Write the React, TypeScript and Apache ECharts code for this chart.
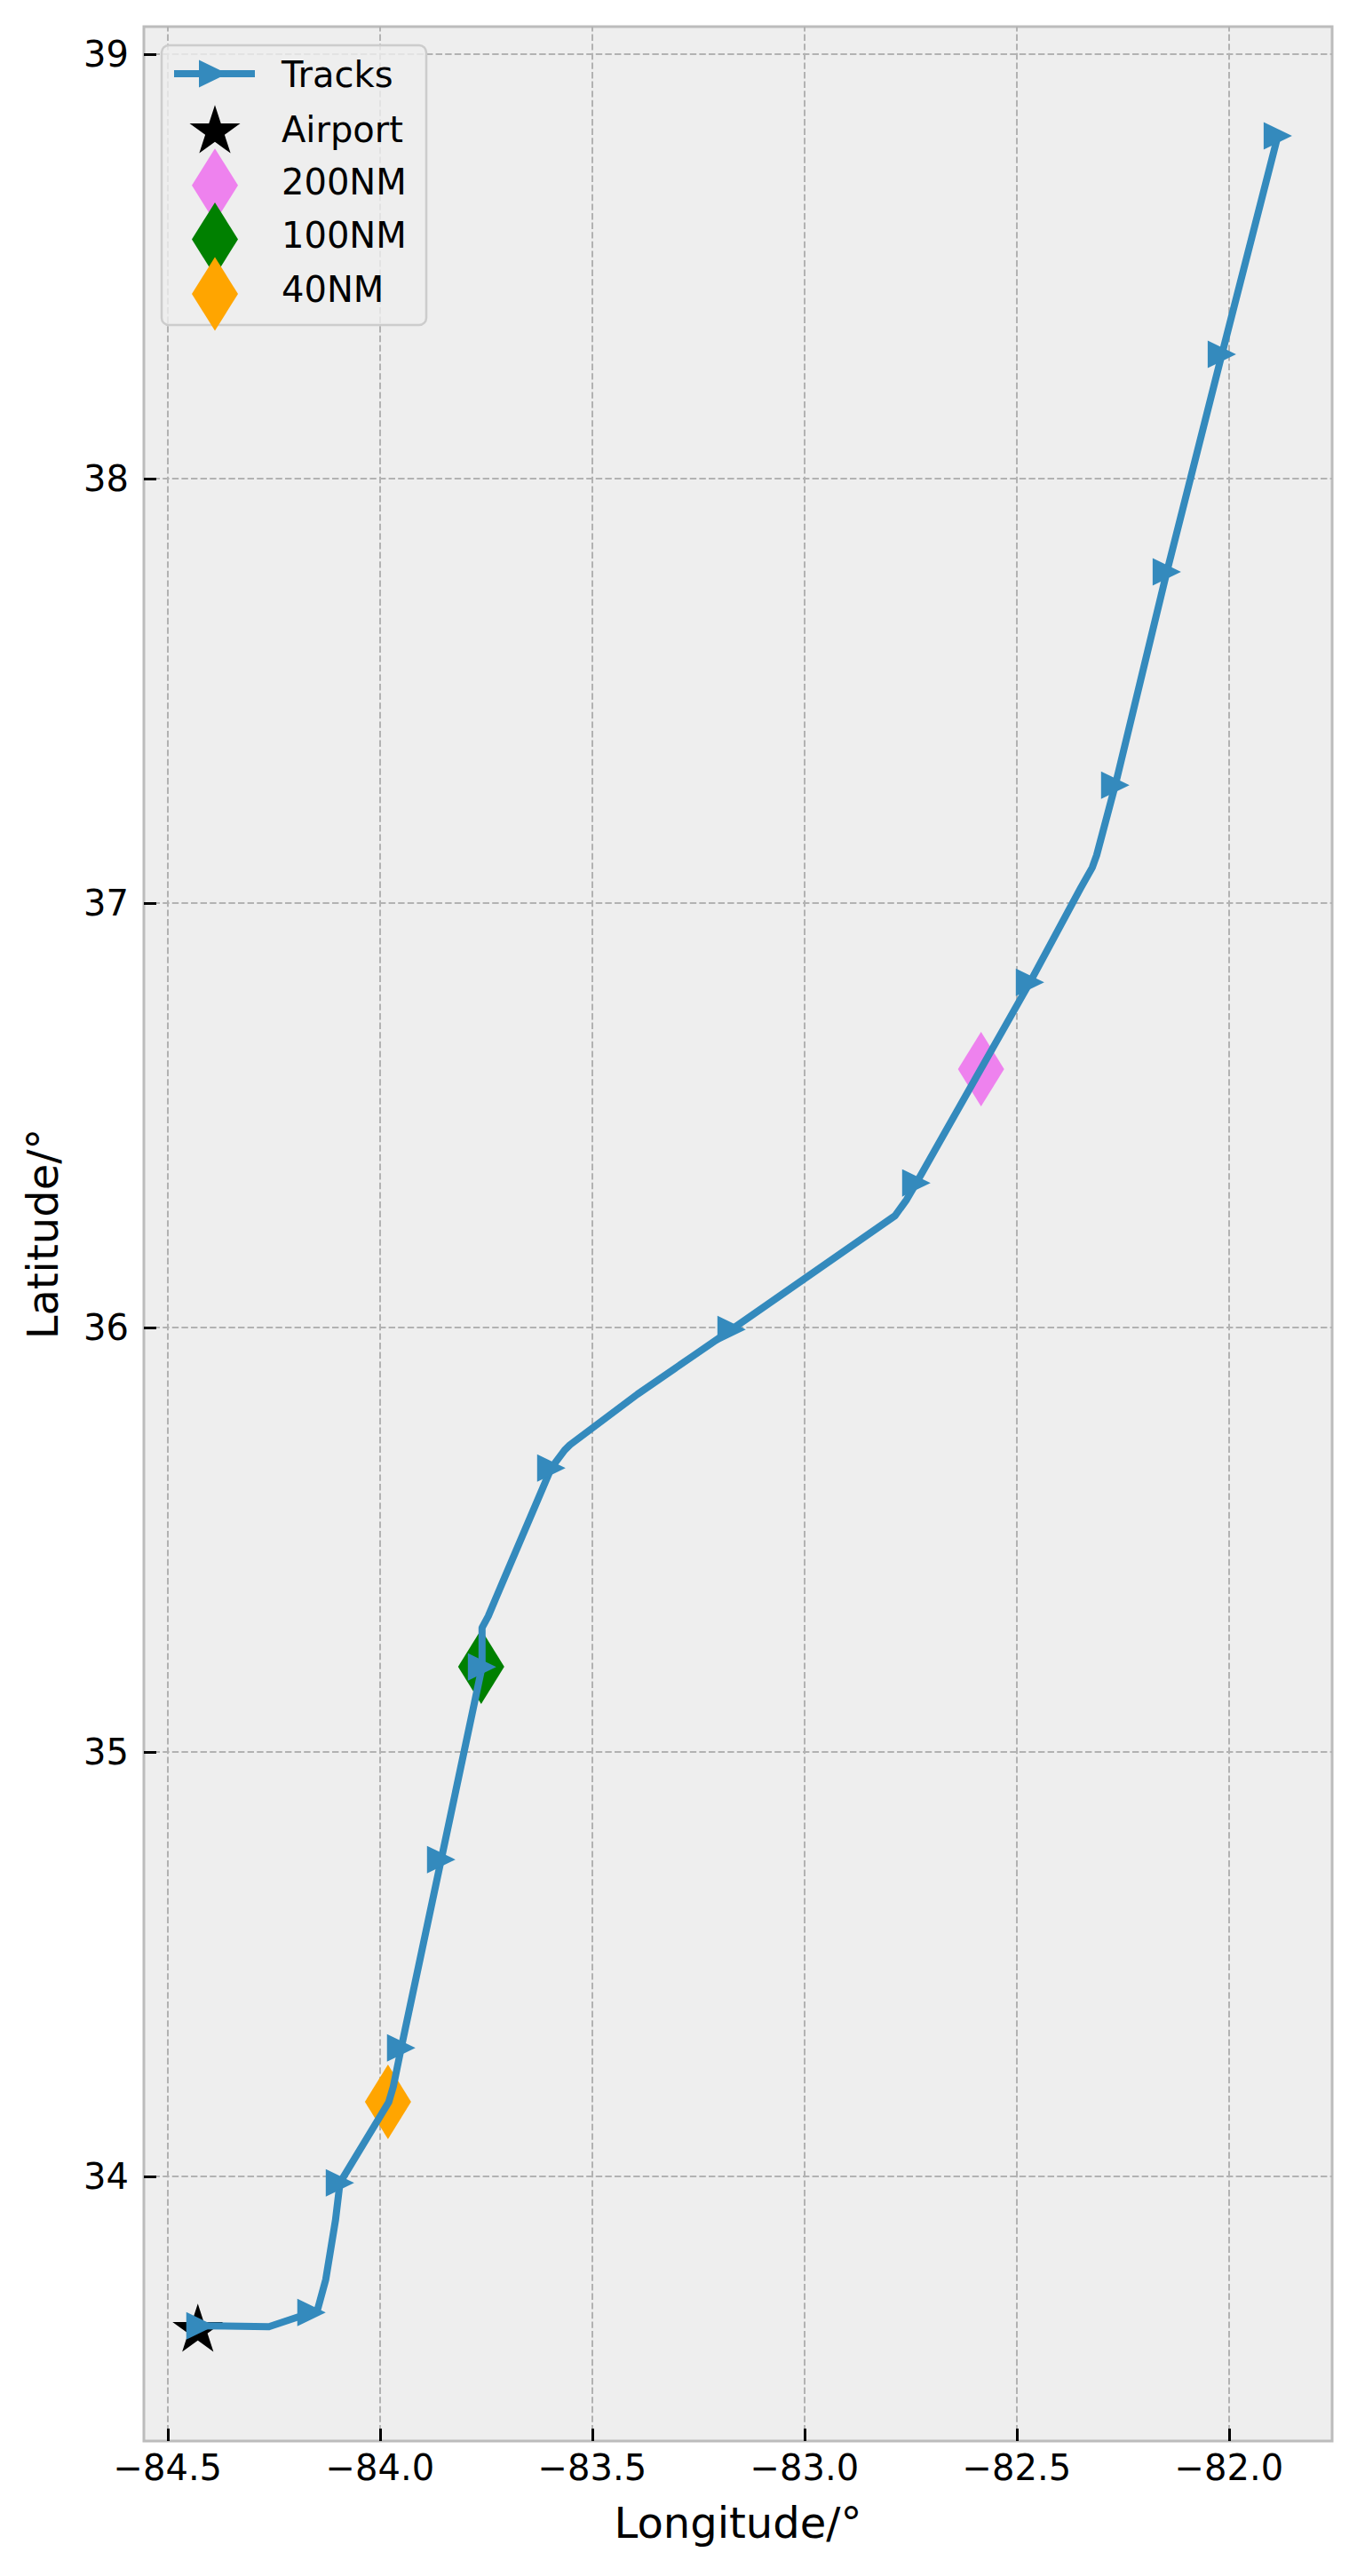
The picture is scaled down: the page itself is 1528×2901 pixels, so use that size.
import React, { useEffect, useRef } from 'react';
import * as echarts from 'echarts';

// Track vertices (degrees)
const trackLon = [
  -84.4226, -84.2615, -84.1611, -84.1464, -84.1276, -84.1046, -84.0941, -83.9791,
  -83.9686, -83.9498, -83.8556, -83.7594, -83.7594, -83.7448, -83.7273, -83.5962,
  -83.5649, -83.5523, -83.3933, -83.1715, -82.7866, -82.7594, -82.7364, -82.4686,
  -82.3494, -82.3222, -82.3117, -82.2678, -82.1464, -82.0167, -81.8849,
];
const trackLat = [
  33.6485, 33.6464, 33.6799, 33.6883, 33.7573, 33.8975, 33.9854, 34.1757,
  34.2113, 34.3033, 34.7469, 35.2008, 35.2929, 35.3201, 35.3619, 35.6695,
  35.7113, 35.7238, 35.8431, 35.9958, 36.2636, 36.3013, 36.341, 36.8138,
  37.0356, 37.0837, 37.113, 37.2782, 37.7803, 38.2929, 38.8075,
];
// indices of track vertices that carry a ">" marker
const arrowIndex = [0, 2, 6, 9, 10, 11, 15, 19, 22, 23, 27, 28, 29, 30];

const airportPos = [-84.4289, 33.638];
const nm200Pos = [-82.584, 36.609];
const nm100Pos = [-83.7615, 35.201];
const nm40Pos = [-83.981, 34.176];

const xTicks = [-84.5, -84.0, -83.5, -83.0, -82.5, -82.0];
const yTicks = [34, 35, 36, 37, 38, 39];
const xRange = [-84.556, -81.757];
const yRange = [33.377, 39.065];

const legendNames = ['Tracks', 'Airport', '200NM', '100NM', '40NM'];

const FONT = 'DejaVu Sans';
const BLUE = '#348ABD';
const VIOLET = '#EE82EE';
const GREEN = '#008000';
const ORANGE = '#FFA500';

function starPoints(cx: number, cy: number, R: number): number[][] {
  const r = R * 0.381966;
  const pts: number[][] = [];
  for (let k = 0; k < 10; k++) {
    const a = (-90 + k * 36) * Math.PI / 180;
    const rad = k % 2 === 0 ? R : r;
    pts.push([cx + rad * Math.cos(a), cy + rad * Math.sin(a)]);
  }
  return pts;
}

function starPath(): string {
  const pts = starPoints(0, 0, 30);
  return 'path://' + pts.map((p, i) => (i === 0 ? 'M' : 'L') + p[0].toFixed(3) + ' ' + p[1].toFixed(3)).join(' ') + ' Z';
}

function fmtX(v: number): string {
  return (v < 0 ? '\u2212' : '') + Math.abs(v).toFixed(1);
}

export default function App() {
  const ref = useRef<HTMLDivElement>(null);
  useEffect(() => {
    document.body.style.margin = '0';
    const chart = echarts.init(ref.current!, null, { renderer: 'svg' });
    const track = trackLon.map((x, i) => [x, trackLat[i]]);
    const arrows = arrowIndex.map((i) => [trackLon[i], trackLat[i]]);

    const lx = 242;
    const diamond = (cx: number, cy: number) => [[cx, cy - 41.5], [cx + 26, cy], [cx, cy + 41.5], [cx - 26, cy]];
    const textY = [84, 146, 205, 265, 326];

    const option: any = {
      animation: false,
      backgroundColor: '#ffffff',
      textStyle: { fontFamily: FONT },
      grid: {
        left: 162, right: 28, top: 30, bottom: 152,
        show: true, backgroundColor: '#eeeeee', borderColor: '#bcbcbc', borderWidth: 3,
        containLabel: false, outerBoundsMode: 'none',
      },
      xAxis: {
        type: 'value', min: xRange[0], max: xRange[1], z: 3,
        axisLine: { show: false },
        splitLine: { show: false },
        axisTick: { show: true, inside: true, length: 14, customValues: xTicks, lineStyle: { color: '#000', width: 3 } },
        axisLabel: { show: true, customValues: xTicks, formatter: fmtX, margin: 10, fontSize: 40, color: '#000', fontFamily: FONT },
        name: 'Longitude/°', nameLocation: 'middle', nameGap: 68,
        nameTextStyle: { fontSize: 48, color: '#000', fontFamily: FONT },
      },
      yAxis: {
        type: 'value', min: yRange[0], max: yRange[1], z: 3,
        axisLine: { show: false },
        splitLine: { show: false },
        axisTick: { show: true, inside: true, length: 14, customValues: yTicks, lineStyle: { color: '#000', width: 3 } },
        axisLabel: { show: true, customValues: yTicks, formatter: (v: number) => String(v), margin: 17, fontSize: 40, color: '#000', fontFamily: FONT },
        name: 'Latitude/°', nameLocation: 'middle', nameGap: 90,
        nameTextStyle: { fontSize: 48, color: '#000', fontFamily: FONT },
      },
      series: [
        {
          name: 'gridlines', type: 'line', data: [], silent: true, z: 1,
          markLine: {
            silent: true, z: 1, symbol: ['none', 'none'], animation: false,
            label: { show: false },
            lineStyle: { color: '#b2b2b2', width: 2, type: [7.4, 3.2] },
            emphasis: { disabled: true },
            data: [
              ...xTicks.map((v) => ({ xAxis: v })),
              ...yTicks.map((v) => ({ yAxis: v })),
            ],
          },
        },
        {
          name: legendNames[1], type: 'scatter', z: 2, data: [airportPos],
          symbol: starPath(), symbolSize: [57.06, 54.27], symbolOffset: [0, -2.9],
          itemStyle: { color: '#000000', opacity: 1 },
        },
        {
          name: legendNames[2], type: 'scatter', z: 2, data: [nm200Pos],
          symbol: 'diamond', symbolSize: [52, 84], itemStyle: { color: VIOLET, opacity: 1 },
        },
        {
          name: legendNames[3], type: 'scatter', z: 2, data: [nm100Pos],
          symbol: 'diamond', symbolSize: [52, 84], itemStyle: { color: GREEN, opacity: 1 },
        },
        {
          name: legendNames[4], type: 'scatter', z: 2, data: [nm40Pos],
          symbol: 'diamond', symbolSize: [52, 84], itemStyle: { color: ORANGE, opacity: 1 },
        },
        {
          name: legendNames[0], type: 'line', z: 3, data: track, symbol: 'none', smooth: false,
          lineStyle: { color: BLUE, width: 8, join: 'round', cap: 'butt', opacity: 1 },
          itemStyle: { color: BLUE },
        },
        {
          name: 'TrackMarkers', type: 'scatter', z: 4, data: arrows,
          symbol: 'triangle', symbolSize: [31, 32], symbolRotate: -90,
          itemStyle: { color: BLUE, opacity: 1 },
        },
      ],
      graphic: [
        {
          type: 'rect', z: 100, shape: { x: 182, y: 51, width: 298, height: 315, r: 8 },
          style: { fill: 'rgba(238,238,238,0.8)', stroke: '#cccccc', lineWidth: 2.5 },
        },
        { type: 'line', z: 101, shape: { x1: 196, y1: 83, x2: 287, y2: 83 }, style: { stroke: BLUE, lineWidth: 8 } },
        { type: 'polygon', z: 102, shape: { points: [[224, 67.5], [224, 98.5], [256, 83]] }, style: { fill: BLUE } },
        { type: 'polygon', z: 101, shape: { points: starPoints(lx, 148.3, 30) }, style: { fill: '#000' } },
        { type: 'polygon', z: 101, shape: { points: diamond(lx, 208.7) }, style: { fill: VIOLET } },
        { type: 'polygon', z: 102, shape: { points: diamond(lx, 269.5) }, style: { fill: GREEN } },
        { type: 'polygon', z: 103, shape: { points: diamond(lx, 331) }, style: { fill: ORANGE } },
        ...legendNames.map((n, i) => ({
          type: 'text', z: 104, x: 317, y: textY[i],
          style: { text: n, fontSize: 40, fontFamily: FONT, fill: '#000', align: 'left', verticalAlign: 'middle' },
        })),
      ],
    };
    chart.setOption(option);
    return () => chart.dispose();
  }, []);
  return <div ref={ref} style={{ width: 1528, height: 2901 }} />;
}
